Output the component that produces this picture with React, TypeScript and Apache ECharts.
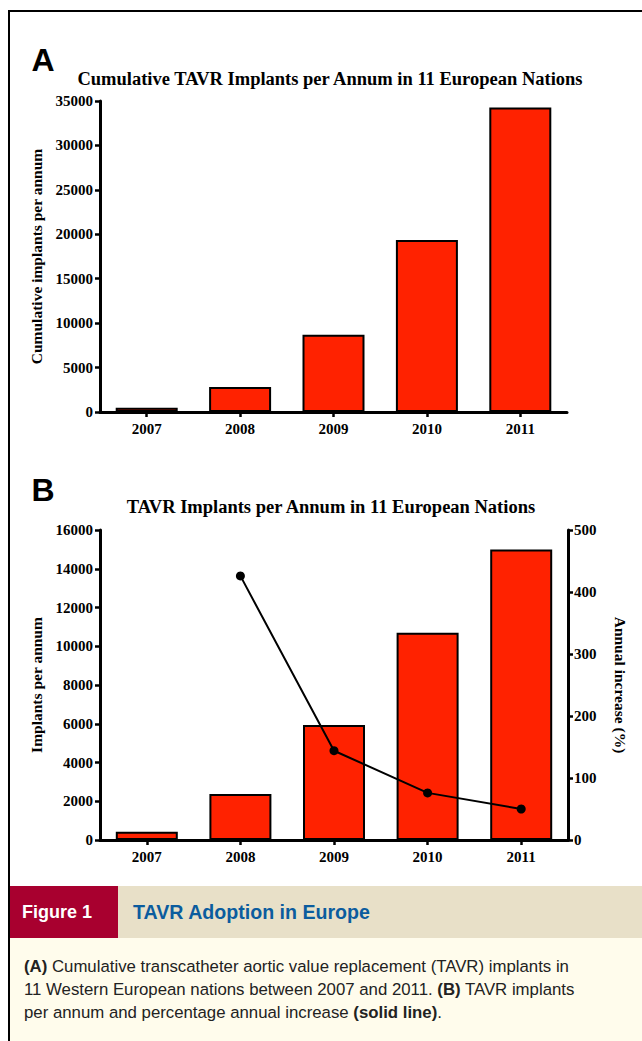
import React, { useEffect, useRef } from "react";
import * as echarts from "echarts";

const years = ["2007", "2008", "2009", "2010", "2011"];
const cumulativeImplants = [480, 2800, 8700, 19350, 34280];
const implantsPerAnnum = [430, 2370, 5935, 10700, 15000];
const annualIncrease: (number | null)[] = [null, 426, 144, 76, 50];

const titleA = "Cumulative TAVR Implants per Annum in 11 European Nations";
const titleB = "TAVR Implants per Annum in 11 European Nations";

const SERIF = "'Liberation Serif', 'Times New Roman', serif";
const SANS = "'Liberation Sans', Arial, sans-serif";
const BAR_COLOR = "#ff2200";

export default function App() {
  const ref = useRef<HTMLDivElement>(null);

  useEffect(() => {
    if (!ref.current) return;
    const chart = echarts.init(ref.current, null, { renderer: "svg" });

    const tickLabel = {
      fontFamily: SERIF,
      fontWeight: "bold" as const,
      fontSize: 15,
      color: "#000",
    };
    const axisLine = { show: true, lineStyle: { color: "#000", width: 3 } };
    const axisTick = { show: true, length: 5, lineStyle: { color: "#000", width: 2.5 } };
    const nameStyle = {
      fontFamily: SERIF,
      fontWeight: "bold" as const,
      fontSize: 15.5,
      color: "#000",
    };
    const plain = (v: number) => String(v);
    const captionRich = {
      b: { fontWeight: "bold", fontFamily: SANS, fontSize: 16.8, fill: "#222" },
    };

    const option: any = {
      animation: false,
      backgroundColor: "#fff",
      grid: [
        { left: 100, right: 75, top: 101, bottom: 629, containLabel: false },
        { left: 100, right: 74, top: 530, bottom: 201, containLabel: false },
      ],
      xAxis: [
        {
          type: "category",
          gridIndex: 0,
          data: years,
          axisLine,
          axisTick: { ...axisTick, alignWithLabel: true },
          axisLabel: { ...tickLabel, margin: 9 },
          splitLine: { show: false },
        },
        {
          type: "category",
          gridIndex: 1,
          data: years,
          axisLine,
          axisTick: { ...axisTick, alignWithLabel: true },
          axisLabel: { ...tickLabel, margin: 9 },
          splitLine: { show: false },
        },
      ],
      yAxis: [
        {
          type: "value",
          gridIndex: 0,
          min: 0,
          max: 35000,
          interval: 5000,
          axisLine,
          axisTick,
          axisLabel: { ...tickLabel, margin: 7, formatter: plain },
          splitLine: { show: false },
          name: "Cumulative implants per annum",
          nameLocation: "middle",
          nameRotate: 90,
          nameGap: 55,
          nameTextStyle: nameStyle,
        },
        {
          type: "value",
          gridIndex: 1,
          min: 0,
          max: 16000,
          interval: 2000,
          axisLine,
          axisTick,
          axisLabel: { ...tickLabel, margin: 7, formatter: plain },
          splitLine: { show: false },
          name: "Implants per annum",
          nameLocation: "middle",
          nameRotate: 90,
          nameGap: 55,
          nameTextStyle: nameStyle,
        },
        {
          type: "value",
          gridIndex: 1,
          position: "right",
          min: 0,
          max: 500,
          interval: 100,
          axisLine,
          axisTick,
          axisLabel: { ...tickLabel, margin: 6, formatter: plain },
          splitLine: { show: false },
          name: "Annual increase (%)",
          nameLocation: "middle",
          nameRotate: -90,
          nameGap: 44,
          nameTextStyle: nameStyle,
        },
      ],
      series: [
        {
          type: "bar",
          xAxisIndex: 0,
          yAxisIndex: 0,
          data: cumulativeImplants,
          barWidth: 62,
          itemStyle: { color: BAR_COLOR, borderColor: "#000", borderWidth: 2 },
        },
        {
          type: "bar",
          xAxisIndex: 1,
          yAxisIndex: 1,
          data: implantsPerAnnum,
          barWidth: 62,
          itemStyle: { color: BAR_COLOR, borderColor: "#000", borderWidth: 2 },
        },
        {
          type: "line",
          xAxisIndex: 1,
          yAxisIndex: 2,
          data: annualIncrease.map((v) => (v === null ? "-" : v)),
          smooth: false,
          symbol: "circle",
          symbolSize: 9,
          z: 5,
          lineStyle: { color: "#000", width: 2 },
          itemStyle: { color: "#000" },
        },
      ],
      graphic: [
        // frame
        { type: "line", shape: { x1: 9, y1: 11, x2: 642, y2: 11 }, style: { stroke: "#000", lineWidth: 2 } },
        { type: "line", shape: { x1: 9, y1: 10, x2: 9, y2: 1041 }, style: { stroke: "#000", lineWidth: 2 } },
        // panel letters
        { type: "text", x: 43, y: 60, style: { text: "A", font: `bold 32px ${SANS}`, fill: "#000", align: "center", verticalAlign: "middle" } },
        { type: "text", x: 43, y: 490, style: { text: "B", font: `bold 32px ${SANS}`, fill: "#000", align: "center", verticalAlign: "middle" } },
        // titles
        { type: "text", x: 330, y: 79, style: { text: titleA, font: `bold 18.5px ${SERIF}`, fill: "#000", align: "center", verticalAlign: "middle" } },
        { type: "text", x: 331, y: 507, style: { text: titleB, font: `bold 18.5px ${SERIF}`, fill: "#000", align: "center", verticalAlign: "middle" } },
        // caption band
        { type: "rect", shape: { x: 10, y: 886, width: 632, height: 52 }, style: { fill: "#e8e0c8" } },
        { type: "rect", shape: { x: 10, y: 886, width: 108, height: 52 }, style: { fill: "#a8002f" } },
        { type: "rect", shape: { x: 10, y: 938, width: 632, height: 103 }, style: { fill: "#fffcec" } },
        { type: "text", x: 22, y: 912, style: { text: "Figure 1", font: `bold 18px ${SANS}`, fill: "#fff", align: "left", verticalAlign: "middle" } },
        { type: "text", x: 133, y: 912, style: { text: "TAVR Adoption in Europe", font: `bold 19.6px ${SANS}`, fill: "#0b5c9e", align: "left", verticalAlign: "middle" } },
        {
          type: "text",
          x: 24,
          y: 966,
          style: {
            text: "{b|(A)} Cumulative transcatheter aortic value replacement (TAVR) implants in",
            font: `16.8px ${SANS}`,
            fill: "#222",
            align: "left",
            verticalAlign: "middle",
            rich: captionRich,
          },
        },
        {
          type: "text",
          x: 24,
          y: 989,
          style: {
            text: "11 Western European nations between 2007 and 2011. {b|(B)} TAVR implants",
            font: `16.8px ${SANS}`,
            fill: "#222",
            align: "left",
            verticalAlign: "middle",
            rich: captionRich,
          },
        },
        {
          type: "text",
          x: 24,
          y: 1012,
          style: {
            text: "per annum and percentage annual increase {b|(solid line)}.",
            font: `16.8px ${SANS}`,
            fill: "#222",
            align: "left",
            verticalAlign: "middle",
            rich: captionRich,
          },
        },
      ],
    };

    chart.setOption(option);
    return () => chart.dispose();
  }, []);

  return (
    <div
      ref={ref}
      style={{ position: "absolute", left: 0, top: 0, width: 642, height: 1041 }}
    />
  );
}
